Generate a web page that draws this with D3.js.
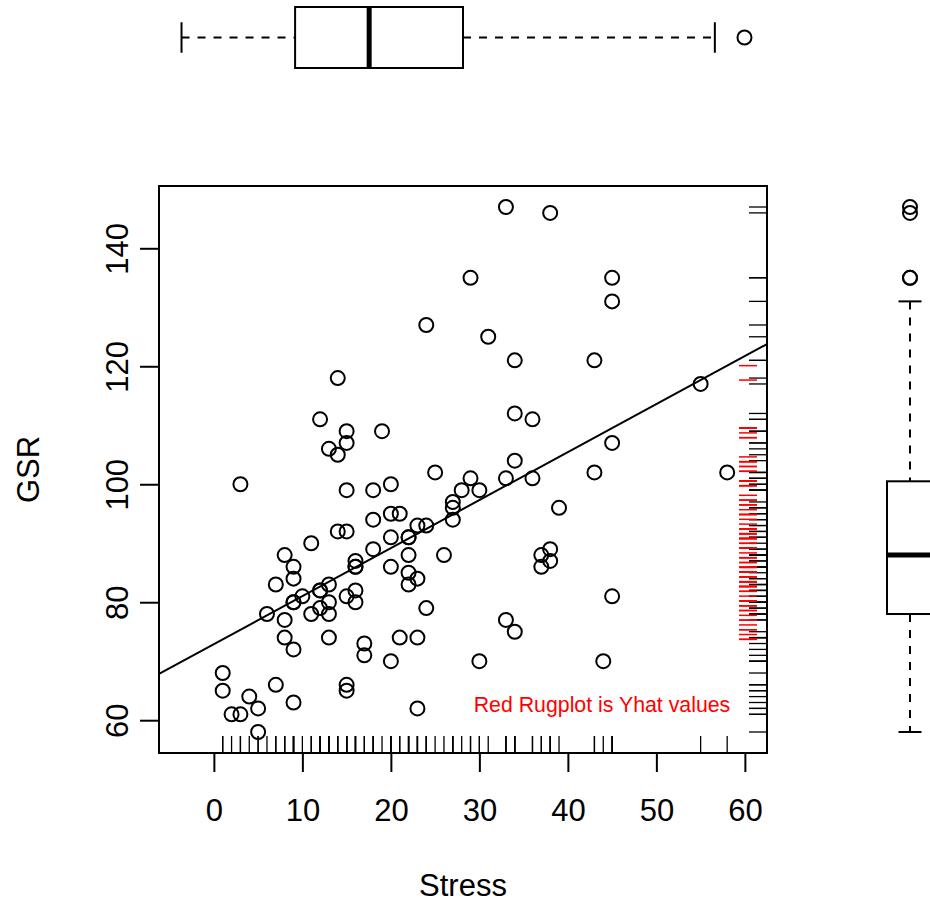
<!DOCTYPE html>
<html>
<head>
<meta charset="utf-8">
<script src="https://cdn.jsdelivr.net/npm/d3@7"></script>
<style>
  body { margin: 0; background: #fff; }
  svg text { font-family: "Liberation Sans", Arial, sans-serif; }
</style>
</head>
<body>
<div id="chart"></div>
<script>
// Stress (x) and GSR (y); last four are overlapped duplicates
var stress = [33,38,29,45,45,24,31,34,43,14,55,34,36,12,15,19,15,45,13,14,
              34,25,43,58,3,20,29,33,36,15,18,28,30,39,27,27,27,20,21,18,
              14,15,11,20,22,23,24,18,22,26,8,9,9,7,16,16,20,22,23,22,
              13,12,16,10,15,9,13,16,12,6,11,13,8,24,8,13,9,17,17,20,
              21,23,1,1,7,4,15,15,9,2,3,5,5,23,38,37,38,37,45,33,
              34,30,44, 12,9,16,22];
var gsr    = [147,146,135,135,131,127,125,121,121,118,117,112,111,111,109,109,107,107,106,105,
              104,102,102,102,100,100,101,101,101,99,99,99,99,96,97,96,94,95,95,94,
              92,92,90,91,91,93,93,89,88,88,88,86,84,83,87,86,86,85,84,83,
              83,82,82,81,81,80,80,80,79,78,78,78,77,79,74,74,72,73,71,70,
              74,74,68,65,66,64,66,65,63,61,61,62,58,62,89,88,87,86,81,77,
              75,70,70, 82,80,86,91];

var xTicks = [0, 10, 20, 30, 40, 50, 60];
var yTicks = [60, 80, 100, 120, 140];
var xLimits = [-6.2, 62.5];
var xLabel = "Stress", yLabel = "GSR";
var noteText = "Red Rugplot is Yhat values";

var width = 930, height = 903;
var plot = { left: 159, right: 767, top: 186, bottom: 753 };

var svg = d3.select("#chart").append("svg")
  .attr("width", width)
  .attr("height", height);

// R style range: data extent padded by 4%
function pad(ext) {
  var r = ext[1] - ext[0];
  return [ext[0] - 0.04 * r, ext[1] + 0.04 * r];
}

var x = d3.scaleLinear().domain(xLimits).range([plot.left, plot.right]);
var y = d3.scaleLinear().domain(pad(d3.extent(gsr))).range([plot.bottom, plot.top]);
var xBox = d3.scaleLinear().domain(pad(d3.extent(stress))).range([plot.left, plot.right]);

// least squares fit
var mx = d3.mean(stress), my = d3.mean(gsr);
var sxy = d3.sum(stress, (v, i) => (v - mx) * (gsr[i] - my));
var sxx = d3.sum(stress, v => (v - mx) * (v - mx));
var slope = sxy / sxx;
var intercept = my - slope * mx;
var yhat = stress.map(v => intercept + slope * v);

// Tukey five number summary, like R's fivenum
function fivenum(vals) {
  var s = vals.slice().sort((a, b) => a - b);
  var n = s.length;
  var n4 = Math.floor((n + 3) / 2) / 2;
  var d = [1, n4, (n + 1) / 2, n + 1 - n4, n];
  return d.map(i => 0.5 * (s[Math.floor(i) - 1] + s[Math.ceil(i) - 1]));
}
function boxStats(vals) {
  var f = fivenum(vals);
  var iqr = f[3] - f[1];
  var inside = vals.filter(v => v >= f[1] - 1.5 * iqr && v <= f[3] + 1.5 * iqr);
  return {
    q1: f[1], med: f[2], q3: f[3],
    lo: d3.min(inside), hi: d3.max(inside),
    out: vals.filter(v => v < f[1] - 1.5 * iqr || v > f[3] + 1.5 * iqr)
  };
}

var defs = svg.append("defs");
defs.append("clipPath").attr("id", "plotclip")
  .append("rect")
  .attr("x", plot.left).attr("y", plot.top)
  .attr("width", plot.right - plot.left).attr("height", plot.bottom - plot.top);

// regression line
svg.append("line")
  .attr("clip-path", "url(#plotclip)")
  .attr("x1", x(xLimits[0])).attr("y1", y(intercept + slope * xLimits[0]))
  .attr("x2", x(xLimits[1])).attr("y2", y(intercept + slope * xLimits[1]))
  .attr("stroke", "#000").attr("stroke-width", 2);

// points
svg.append("g").selectAll("circle")
  .data(stress)
  .enter().append("circle")
  .attr("cx", d => x(d))
  .attr("cy", (d, i) => y(gsr[i]))
  .attr("r", 7)
  .attr("fill", "none")
  .attr("stroke", "#000")
  .attr("stroke-width", 2);

// rugs: x along bottom, y on the right, yhat in red
var rugLen = 17;
svg.append("g").selectAll("line")
  .data(stress).enter().append("line")
  .attr("x1", d => x(d)).attr("x2", d => x(d))
  .attr("y1", plot.bottom).attr("y2", plot.bottom - rugLen)
  .attr("stroke", "#000").attr("stroke-width", 1.3);

svg.append("g").selectAll("line")
  .data(gsr).enter().append("line")
  .attr("x1", plot.right).attr("x2", plot.right - 18)
  .attr("y1", d => y(d)).attr("y2", d => y(d))
  .attr("stroke", "#000").attr("stroke-width", 1.3);

svg.append("g").selectAll("line")
  .data(yhat).enter().append("line")
  .attr("x1", plot.right - 10).attr("x2", plot.right - 28)
  .attr("y1", d => y(d)).attr("y2", d => y(d))
  .attr("stroke", "#ff0000").attr("stroke-width", 1.5);

svg.append("text")
  .attr("x", 602).attr("y", 712)
  .attr("text-anchor", "middle")
  .attr("fill", "#ff0000")
  .style("font-size", "21.3px")
  .text(noteText);

// frame
svg.append("rect")
  .attr("x", plot.left).attr("y", plot.top)
  .attr("width", plot.right - plot.left).attr("height", plot.bottom - plot.top)
  .attr("fill", "none").attr("stroke", "#000").attr("stroke-width", 2);

// axes
var xAxis = svg.append("g")
  .attr("transform", `translate(0,${plot.bottom})`)
  .call(d3.axisBottom(x).tickValues(xTicks).tickSize(19).tickPadding(30).tickSizeOuter(0));
xAxis.select(".domain").attr("d", `M${x(xTicks[0])},0H${x(xTicks[xTicks.length - 1])}`).attr("stroke-width", 2);
xAxis.selectAll(".tick line").attr("stroke-width", 2);
xAxis.selectAll(".tick text")
  .attr("y", 68).attr("dy", null)
  .style("font-size", "31px").style("font-family", '"Liberation Sans", Arial, sans-serif');

var yAxis = svg.append("g")
  .attr("transform", `translate(${plot.left},0)`)
  .call(d3.axisLeft(y).tickValues(yTicks).tickSize(19).tickSizeOuter(0));
yAxis.select(".domain").attr("d", `M0,${y(yTicks[0])}V${y(yTicks[yTicks.length - 1])}`).attr("stroke-width", 2);
yAxis.selectAll(".tick line").attr("stroke-width", 2);
yAxis.selectAll(".tick text")
  .attr("x", null).attr("dy", null)
  .attr("text-anchor", "middle")
  .attr("transform", "translate(-31,0) rotate(-90)")
  .style("font-size", "31px").style("font-family", '"Liberation Sans", Arial, sans-serif');

svg.append("text")
  .attr("x", (plot.left + plot.right) / 2).attr("y", 896)
  .attr("text-anchor", "middle")
  .style("font-size", "31px")
  .text(xLabel);

svg.append("text")
  .attr("transform", `translate(39,${(plot.top + plot.bottom) / 2}) rotate(-90)`)
  .attr("text-anchor", "middle")
  .style("font-size", "31px")
  .text(yLabel);

// horizontal boxplot of Stress on top
var bx = boxStats(stress);
var topG = svg.append("g");
var cy = 37.5, half = 30.5;
topG.append("line")
  .attr("x1", xBox(bx.lo)).attr("x2", xBox(bx.q1)).attr("y1", cy).attr("y2", cy)
  .attr("stroke", "#000").attr("stroke-width", 2).attr("stroke-dasharray", "8,8");
topG.append("line")
  .attr("x1", xBox(bx.q3)).attr("x2", xBox(bx.hi)).attr("y1", cy).attr("y2", cy)
  .attr("stroke", "#000").attr("stroke-width", 2).attr("stroke-dasharray", "8,8");
[bx.lo, bx.hi].forEach(function(v) {
  topG.append("line")
    .attr("x1", xBox(v)).attr("x2", xBox(v)).attr("y1", cy - half / 2).attr("y2", cy + half / 2)
    .attr("stroke", "#000").attr("stroke-width", 2);
});
topG.append("rect")
  .attr("x", xBox(bx.q1)).attr("y", cy - half)
  .attr("width", xBox(bx.q3) - xBox(bx.q1)).attr("height", 2 * half)
  .attr("fill", "#fff").attr("stroke", "#000").attr("stroke-width", 2);
topG.append("line")
  .attr("x1", xBox(bx.med)).attr("x2", xBox(bx.med)).attr("y1", cy - half).attr("y2", cy + half)
  .attr("stroke", "#000").attr("stroke-width", 5);
topG.selectAll("circle").data(bx.out).enter().append("circle")
  .attr("cx", d => xBox(d)).attr("cy", cy).attr("r", 7)
  .attr("fill", "none").attr("stroke", "#000").attr("stroke-width", 2);

// vertical boxplot of GSR on the right
var by = boxStats(gsr);
var rightG = svg.append("g");
var cx = 910, halfW = 23;
rightG.append("line")
  .attr("x1", cx).attr("x2", cx).attr("y1", y(by.hi)).attr("y2", y(by.q3))
  .attr("stroke", "#000").attr("stroke-width", 2).attr("stroke-dasharray", "8,8");
rightG.append("line")
  .attr("x1", cx).attr("x2", cx).attr("y1", y(by.q1)).attr("y2", y(by.lo))
  .attr("stroke", "#000").attr("stroke-width", 2).attr("stroke-dasharray", "8,8");
[by.lo, by.hi].forEach(function(v) {
  rightG.append("line")
    .attr("x1", cx - halfW / 2).attr("x2", cx + halfW / 2).attr("y1", y(v)).attr("y2", y(v))
    .attr("stroke", "#000").attr("stroke-width", 2);
});
rightG.append("rect")
  .attr("x", cx - halfW).attr("y", y(by.q3))
  .attr("width", 2 * halfW).attr("height", y(by.q1) - y(by.q3))
  .attr("fill", "#fff").attr("stroke", "#000").attr("stroke-width", 2);
rightG.append("line")
  .attr("x1", cx - halfW).attr("x2", cx + halfW).attr("y1", y(by.med)).attr("y2", y(by.med))
  .attr("stroke", "#000").attr("stroke-width", 5);
rightG.selectAll("circle").data(by.out).enter().append("circle")
  .attr("cx", cx).attr("cy", d => y(d)).attr("r", 7)
  .attr("fill", "none").attr("stroke", "#000").attr("stroke-width", 2);
</script>
</body>
</html>
